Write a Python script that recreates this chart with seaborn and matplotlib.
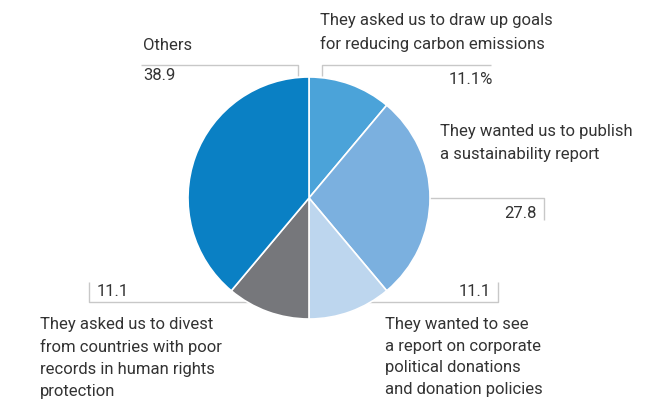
import matplotlib
matplotlib.use("Agg")
import matplotlib.pyplot as plt
import seaborn as sns

categories = [
    "They asked us to draw up goals\nfor reducing carbon emissions",
    "They wanted us to publish\na sustainability report",
    "They wanted to see\na report on corporate\npolitical donations\nand donation policies",
    "They asked us to divest\nfrom countries with poor\nrecords in human rights\nprotection",
    "Others",
]
values = [11.1, 27.8, 11.1, 11.1, 38.9]
value_labels = ["11.1%", "27.8", "11.1", "11.1", "38.9"]
colors = ["#4ba3d9", "#7bb0df", "#bdd6ee", "#76777b", "#0a80c4"]

sns.set_theme(style="white")
plt.rcParams["font.family"] = ["Roboto", "DejaVu Sans"]

TXT = "#333333"
LINE = "#c8c8c8"
H = 400

fig = plt.figure(figsize=(6.7, 4), dpi=100)
ax = fig.add_axes([0, 0, 1, 1])

ax.pie(values, colors=colors, startangle=90, counterclock=False,
       center=(309, H - 198), radius=121,
       wedgeprops=dict(edgecolor="white", linewidth=1.2, zorder=3))
ax.set_xlim(0, 670)
ax.set_ylim(0, H)
ax.set_aspect("equal")
ax.axis("off")

def Y(y):
    return H - y

def poly(pts):
    xs = [p[0] for p in pts]
    ys = [Y(p[1]) for p in pts]
    ax.plot(xs, ys, color=LINE, lw=1.0, zorder=1, solid_capstyle="butt")

# leader lines
poly([(141, 64.5), (298, 64.5), (298, 76)])
poly([(491, 64.5), (322, 64.5), (322, 76)])
poly([(420, 198), (544, 198), (544, 220)])
poly([(360, 302), (498, 302), (498, 282)])
poly([(260, 302), (89, 302), (89, 282)])

fs = 12
# category labels
ax.text(320, Y(32.5), categories[0], ha="left", va="center", fontsize=fs, color=TXT, linespacing=1.65)
ax.text(440, Y(143), categories[1], ha="left", va="center", fontsize=fs, color=TXT, linespacing=1.6)
ax.text(385, Y(357), categories[2], ha="left", va="center", fontsize=fs, color=TXT, linespacing=1.58)
ax.text(40, Y(358), categories[3], ha="left", va="center", fontsize=fs, color=TXT, linespacing=1.56)
ax.text(143, Y(46), categories[4], ha="left", va="center", fontsize=fs, color=TXT)

# value labels
ax.text(493, Y(79), value_labels[0], ha="right", va="center", fontsize=fs, color=TXT)
ax.text(537, Y(213), value_labels[1], ha="right", va="center", fontsize=fs, color=TXT)
ax.text(491, Y(291), value_labels[2], ha="right", va="center", fontsize=fs, color=TXT)
ax.text(97, Y(291), value_labels[3], ha="left", va="center", fontsize=fs, color=TXT)
ax.text(143, Y(75), value_labels[4], ha="left", va="center", fontsize=fs, color=TXT)

fig.savefig("out.png", dpi=100)
